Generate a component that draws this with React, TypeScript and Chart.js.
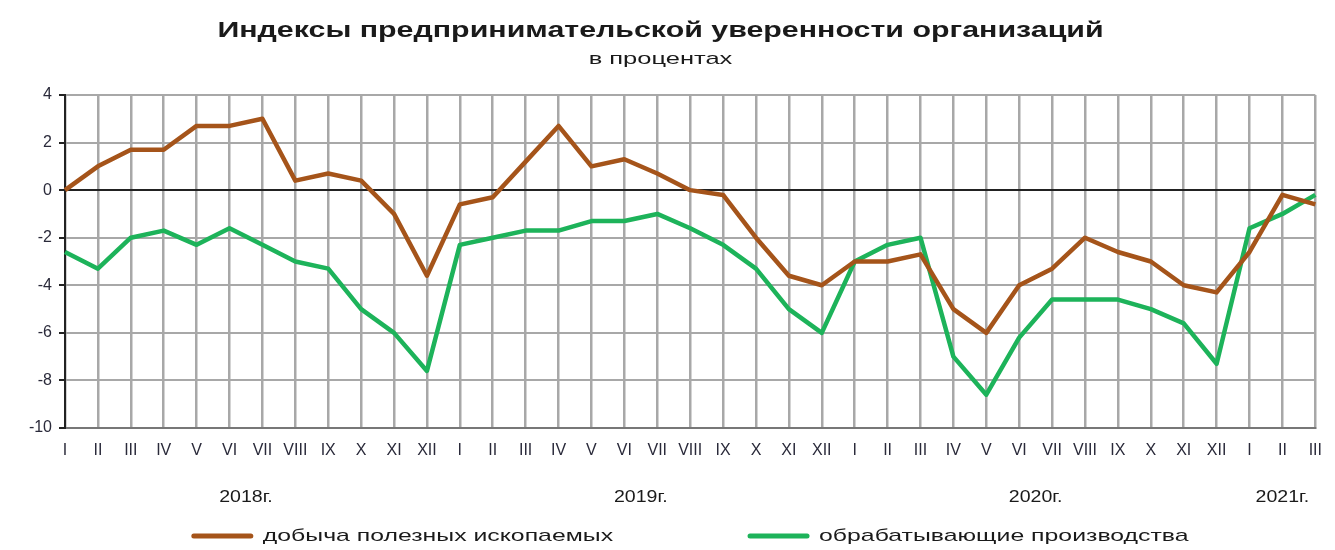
import React, { useEffect, useRef } from "react";
import { Chart, registerables } from "chart.js";

Chart.register(...registerables);

const TITLE = "Индексы предпринимательской уверенности организаций";
const SUBTITLE = "в процентах";

const categories = [
  "I", "II", "III", "IV", "V", "VI", "VII", "VIII", "IX", "X", "XI", "XII",
  "I", "II", "III", "IV", "V", "VI", "VII", "VIII", "IX", "X", "XI", "XII",
  "I", "II", "III", "IV", "V", "VI", "VII", "VIII", "IX", "X", "XI", "XII",
  "I", "II", "III",
];

const yearLabels = ["2018г.", "2019г.", "2020г.", "2021г."];
const yearMonthCounts = [12, 12, 12, 3];

const seriesNames = ["добыча полезных ископаемых", "обрабатывающие производства"];

const mining = [
  0, 1.0, 1.7, 1.7, 2.7, 2.7, 3.0, 0.4, 0.7, 0.4, -1.0, -3.6,
  -0.6, -0.3, 1.2, 2.7, 1.0, 1.3, 0.7, 0.0, -0.2, -2.0, -3.6, -4.0,
  -3.0, -3.0, -2.7, -5.0, -6.0, -4.0, -3.3, -2.0, -2.6, -3.0, -4.0, -4.3,
  -2.6, -0.2, -0.6,
];

const manufacturing = [
  -2.6, -3.3, -2.0, -1.7, -2.3, -1.6, -2.3, -3.0, -3.3, -5.0, -6.0, -7.6,
  -2.3, -2.0, -1.7, -1.7, -1.3, -1.3, -1.0, -1.6, -2.3, -3.3, -5.0, -6.0,
  -3.0, -2.3, -2.0, -7.0, -8.6, -6.2, -4.6, -4.6, -4.6, -5.0, -5.6, -7.3,
  -1.6, -1.0, -0.2,
];

const yTicks = { min: -10, max: 4, step: 2 };

const COLORS = ["#A5541A", "#1DB35A"];
const TEXT = "#1a1a1a";
const GRID = "#a8a8a8";
const FONT = "'Liberation Sans', Arial, sans-serif";

function drawStretched(
  ctx: CanvasRenderingContext2D,
  text: string,
  x: number,
  y: number,
  font: string,
  sx: number,
  align: CanvasTextAlign = "center"
) {
  ctx.save();
  ctx.font = font;
  ctx.translate(x, y);
  ctx.scale(sx, 1);
  ctx.textAlign = align;
  ctx.textBaseline = "middle";
  ctx.fillText(text, 0, 0);
  ctx.restore();
}

function measureStretched(ctx: CanvasRenderingContext2D, text: string, font: string, sx: number) {
  ctx.save();
  ctx.font = font;
  const w = ctx.measureText(text).width * sx;
  ctx.restore();
  return w;
}

const decorPlugin = {
  id: "decor",
  afterDraw(chart: any) {
    const ctx: CanvasRenderingContext2D = chart.ctx;
    const xs = chart.scales.x;
    const area = chart.chartArea;
    ctx.save();
    ctx.fillStyle = TEXT;

    // Title & subtitle
    const cx = chart.width / 2 - 7;
    drawStretched(ctx, TITLE, cx, 31, `bold 22px ${FONT}`, 1.38);
    drawStretched(ctx, SUBTITLE, cx, 59, `17px ${FONT}`, 1.5);

    // Year labels
    let start = 0;
    const yearFont = `17px ${FONT}`;
    yearLabels.forEach((lbl, i) => {
      const n = yearMonthCounts[i];
      const mid = start + (n - 1) / 2;
      let x = xs.getPixelForValue(mid);
      const w = measureStretched(ctx, lbl, yearFont, 1.15);
      if (x + w / 2 > chart.width - 2) x = chart.width - 2 - w / 2;
      drawStretched(ctx, lbl, x, 497, yearFont, 1.15);
      start += n;
    });

    // Legend
    const legFont = `17px ${FONT}`;
    const sx = 1.46;
    const lineLen = 61;
    const gap = 10;
    const itemGap = 135;
    const widths = seriesNames.map((s) => lineLen + gap + measureStretched(ctx, s, legFont, sx));
    const total = widths[0] + itemGap + widths[1];
    let lx = (area.left + area.right) / 2 - total / 2;
    const ly = 536;
    seriesNames.forEach((s, i) => {
      ctx.save();
      ctx.strokeStyle = chart.data.datasets[i].borderColor;
      ctx.lineWidth = 5;
      ctx.lineCap = "round";
      ctx.beginPath();
      ctx.moveTo(lx + 2, ly);
      ctx.lineTo(lx + lineLen - 2, ly);
      ctx.stroke();
      ctx.restore();
      ctx.fillStyle = TEXT;
      drawStretched(ctx, s, lx + lineLen + gap, ly, legFont, sx, "left");
      lx += widths[i] + itemGap;
    });
    ctx.restore();
  },
};

export default function App() {
  const ref = useRef<HTMLCanvasElement | null>(null);

  useEffect(() => {
    document.body.style.margin = "0";
    const canvas = ref.current;
    if (!canvas) return;
    const chart = new Chart(canvas, {
      type: "line",
      data: {
        labels: categories,
        datasets: [
          {
            label: seriesNames[0],
            data: mining,
            borderColor: COLORS[0],
            backgroundColor: COLORS[0],
            borderWidth: 4.5,
            pointRadius: 0,
            tension: 0,
            borderJoinStyle: "round",
          },
          {
            label: seriesNames[1],
            data: manufacturing,
            borderColor: COLORS[1],
            backgroundColor: COLORS[1],
            borderWidth: 4.5,
            pointRadius: 0,
            tension: 0,
            borderJoinStyle: "round",
          },
        ],
      },
      options: {
        animation: false,
        responsive: true,
        maintainAspectRatio: false,
        layout: { padding: { top: 95, right: 19, left: 0, bottom: 0 } },
        plugins: {
          legend: { display: false },
          title: { display: false },
          tooltip: { enabled: false },
        },
        scales: {
          x: {
            type: "category",
            offset: false,
            afterFit: (s: any) => {
              s.height = 122;
            },
            grid: {
              color: GRID,
              lineWidth: 2.5,
              drawTicks: false,
              offset: false,
            },
            border: { display: true, color: "#777", width: 2 },
            ticks: {
              autoSkip: false,
              maxRotation: 0,
              minRotation: 0,
              padding: 13,
              color: "#2a2a3a",
              font: { family: FONT, size: 16 },
            },
          },
          y: {
            min: yTicks.min,
            max: yTicks.max,
            afterFit: (s: any) => {
              s.width = 65;
            },
            grid: {
              color: (c: any) => (c.tick && c.tick.value === 0 ? "#222" : GRID),
              lineWidth: 2,
              tickLength: 6,
              tickColor: "#222",
            },
            border: { display: true, color: "#222", width: 2 },
            ticks: {
              stepSize: yTicks.step,
              padding: 7,
              color: "#2a2a3a",
              font: { family: FONT, size: 16 },
            },
          },
        },
      },
      plugins: [decorPlugin],
    });
    return () => chart.destroy();
  }, []);

  return (
    <div style={{ position: "fixed", left: 0, top: 0, width: 1335, height: 550, background: "#fff" }}>
      <canvas ref={ref} />
    </div>
  );
}
